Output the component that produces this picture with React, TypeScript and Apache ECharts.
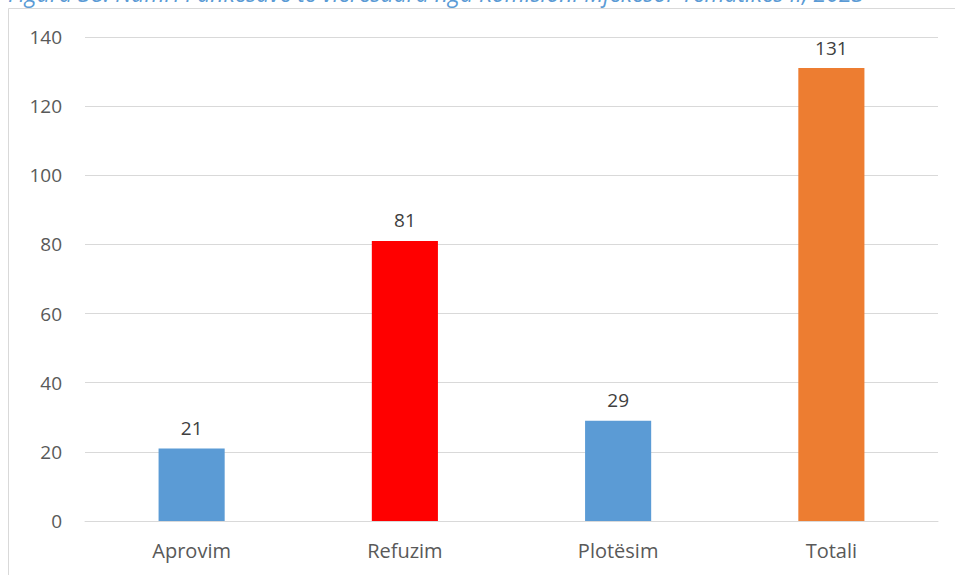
import React, { useEffect, useRef } from "react";
import * as echarts from "echarts";

const titleText = "Figura 38: Numri i ankesave të vlerësuara nga Komisioni Mjekësor Tematikës II, 2023";
const categories = ["Aprovim", "Refuzim", "Plotësim", "Totali"];
const values = [21, 81, 29, 131];
const barColors = ["#5B9BD5", "#FF0000", "#5B9BD5", "#ED7D31"];
const yTicks = { min: 0, max: 140, interval: 20 };

const FONT = "'Open Sans', 'Noto Sans', sans-serif";

export default function App() {
  const ref = useRef<HTMLDivElement>(null);
  useEffect(() => {
    if (!ref.current) return;
    const chart = echarts.init(ref.current, undefined, { renderer: "svg" });
    chart.setOption({
      animation: false,
      textStyle: { fontFamily: FONT },
      graphic: [
        {
          type: "rect",
          shape: { x: 8.5, y: 8.5, width: 1000, height: 600 },
          style: { fill: "none", stroke: "#D9D9D9", lineWidth: 1 },
          silent: true,
        },
        {
          type: "text",
          x: 8,
          y: -19,
          style: {
            text: titleText,
            fill: "#5B9BD5",
            font: `italic 23px ${FONT}`,
          },
          silent: true,
        },
      ],
      grid: { left: 85, right: 17, top: 37, bottom: 54 },
      xAxis: {
        type: "category",
        data: categories,
        axisLine: { show: true, lineStyle: { color: "#D9D9D9", width: 1 } },
        axisTick: { show: false },
        axisLabel: { color: "#595959", fontSize: 20, margin: 19, fontFamily: FONT },
      },
      yAxis: {
        type: "value",
        min: yTicks.min,
        max: yTicks.max,
        interval: yTicks.interval,
        axisLine: { show: false },
        axisTick: { show: false },
        splitLine: { lineStyle: { color: "#D9D9D9", width: 1 } },
        axisLabel: { color: "#595959", fontSize: 19, margin: 23, fontFamily: FONT },
      },
      series: [
        {
          type: "bar",
          data: values.map((v, i) => ({ value: v, itemStyle: { color: barColors[i] } })),
          barWidth: "31%",
          label: {
            show: true,
            position: "top",
            distance: 11,
            color: "#404040",
            fontSize: 19,
            fontFamily: FONT,
          },
        },
      ],
    });
    return () => chart.dispose();
  }, []);
  return (
    <div style={{ position: "absolute", left: 0, top: 0, width: 955, height: 575, overflow: "hidden" }}>
      <div ref={ref} style={{ width: 955, height: 575 }} />
    </div>
  );
}
